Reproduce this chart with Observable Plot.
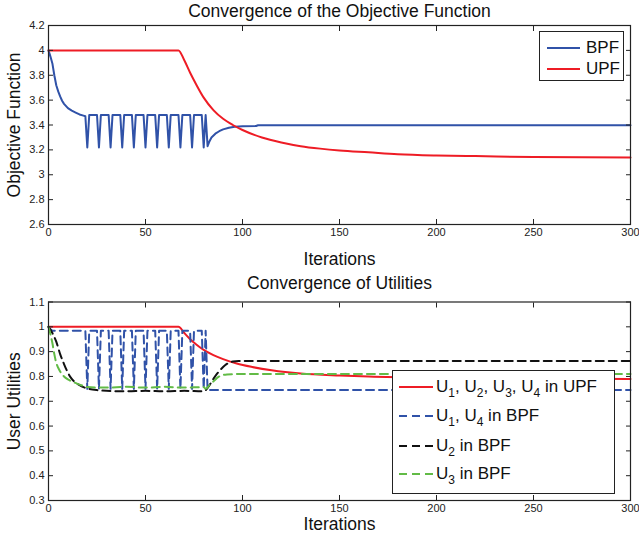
<!DOCTYPE html>
<html>
<head>
<meta charset="utf-8">
<script src="https://cdn.jsdelivr.net/npm/d3@7"></script>
<script src="https://cdn.jsdelivr.net/npm/@observablehq/plot@0.6"></script>
<style>
  html, body { margin: 0; padding: 0; background: #fff; }
  #wrap { position: relative; width: 639px; height: 540px; font-family: "Liberation Sans", Arial, sans-serif; }
  #wrap svg { display: block; }
  .legend { position: absolute; box-sizing: border-box; border: 1px solid #222; background: #fff; }
  .row { position: absolute; height: 24px; font-size: 17px; color: #111; white-space: nowrap; }
  .row svg { position: absolute; }
  .row span { position: absolute; line-height: 20px; }
  .row sub { font-size: 12px; vertical-align: -5px; line-height: 0; }
</style>
</head>
<body>
<div id="wrap"></div>
<script>
// ---------- tick values ----------
const iterTicks = [0, 50, 100, 150, 200, 250, 300];
const objTicks = [2.6, 2.8, 3, 3.2, 3.4, 3.6, 3.8, 4, 4.2];
const utilTicks = [0.3, 0.4, 0.5, 0.6, 0.7, 0.8, 0.9, 1, 1.1];

// ---------- top panel: objective function ----------
const bpfIter = [0,1,2,3,4,5,6,7,8,10,12,14,16,18,19,
  20,21,25,26,27,31,32,33,37,38,39,43,44,45,49,50,51,55,56,57,61,62,63,67,68,69,73,74,75,79,
  80,81,82,83,84,86,88,90,93,96,100,107,108,300];
const bpfObj = [4.0,3.95,3.895,3.80,3.72,3.67,3.63,3.595,3.57,3.535,3.515,3.50,3.485,3.475,3.47,
  3.22,3.48,3.48,3.22,3.48,3.48,3.22,3.48,3.48,3.22,3.48,3.48,3.22,3.48,3.48,3.22,3.48,3.48,3.22,3.48,3.48,3.22,3.48,3.48,3.22,3.48,3.48,3.22,3.48,3.48,
  3.22,3.48,3.23,3.27,3.30,3.33,3.35,3.365,3.378,3.386,3.39,3.392,3.398,3.398];

const upfIter = [0,67,70,73,76,80,85,90,95,100,110,120,130,140,150,165,180,200,220,250,300];
const upfObj = [4.0,4.0,3.92,3.82,3.73,3.62,3.52,3.45,3.40,3.36,3.30,3.26,3.23,3.21,3.195,3.18,3.165,3.155,3.15,3.142,3.138];

// ---------- bottom panel: user utilities ----------
const upfUtilIter = [0,67,70,73,76,80,85,90,97,105,115,130,150,165,200,250,300];
const upfUtil = [1.0,1.0,0.975,0.95,0.93,0.907,0.886,0.87,0.852,0.838,0.825,0.812,0.804,0.80,0.795,0.792,0.79];

const u14Iter = [0,1,2,19,20,21,25,26,27,31,32,33,37,38,39,43,44,45,49,50,51,55,56,57,61,62,63,67,68,69,73,74,75,79,80,81,82,300];
const u14Util = [1.0,0.99,0.984,0.984,0.75,0.984,0.984,0.75,0.984,0.984,0.75,0.984,0.984,0.75,0.984,0.984,0.75,0.984,0.984,0.75,0.984,0.984,0.75,0.984,0.984,0.75,0.984,0.984,0.75,0.984,0.984,0.75,0.984,0.984,0.75,0.984,0.745,0.745];

const u2Iter = [0,2,4,6,8,10,12,14,16,18,21,25,30,40,50,60,70,80,83,85,87,89,91,93,95,98,300];
const u2Util = [1.0,0.975,0.94,0.89,0.85,0.815,0.79,0.775,0.765,0.757,0.75,0.745,0.742,0.74,0.742,0.74,0.742,0.74,0.765,0.79,0.812,0.83,0.845,0.855,0.86,0.862,0.862];

const u3Iter = [0,1,2,3,4,5,6,8,10,12,15,18,20,30,40,50,60,70,80,81,83,85,88,92,100,300];
const u3Util = [1.0,0.97,0.935,0.89,0.855,0.835,0.82,0.80,0.788,0.78,0.77,0.762,0.757,0.755,0.758,0.755,0.758,0.755,0.757,0.75,0.765,0.78,0.80,0.808,0.81,0.81];

(function () {
// ---------- styles ----------
const BLUE = "#3052a8", RED = "#ee1c25", BLACK = "#111", GREEN = "#62bb46";
const DASH = "8,5";
const font = '"Liberation Sans", Arial, sans-serif';

const table = (xs, ys) => xs.map((x, i) => ({x, y: ys[i]}));
const fmt = d => String(+d.toFixed(1));
const T = {fontSize: 17.5, fill: "#111", textAnchor: "middle", lineAnchor: "middle"};

function frameMarks(yTicks) {
  return [
    Plot.axisX(iterTicks, {anchor: "bottom", tickSize: 0, tickPadding: 4, fontSize: 11, label: null, tickFormat: d => String(d), fill: "#222"}),
    Plot.axisX(iterTicks, {anchor: "bottom", tickSize: -5, tickFormat: () => "", label: null, stroke: "#222"}),
    Plot.axisX(iterTicks, {anchor: "top", tickSize: -5, tickFormat: () => "", label: null, stroke: "#222"}),
    Plot.axisY(yTicks, {anchor: "left", tickSize: 0, tickPadding: 4, fontSize: 11, label: null, tickFormat: fmt, fill: "#222"}),
    Plot.axisY(yTicks, {anchor: "left", tickSize: -5, tickFormat: () => "", label: null, stroke: "#222"}),
    Plot.axisY(yTicks, {anchor: "right", tickSize: -5, tickFormat: () => "", label: null, stroke: "#222"})
  ];
}

const topPlot = Plot.plot({
  width: 639, height: 270,
  marginLeft: 48, marginRight: 9, marginTop: 25, marginBottom: 46,
  style: {fontFamily: font, background: "#fff", overflow: "visible"},
  x: {domain: [0, 300]},
  y: {domain: [2.6, 4.2]},
  marks: [
    Plot.line(table(bpfIter, bpfObj), {x: "x", y: "y", stroke: BLUE, strokeWidth: 2, curve: "linear"}),
    Plot.line(table(upfIter, upfObj), {x: "x", y: "y", stroke: RED, strokeWidth: 2, curve: "monotone-x"}),
    ...frameMarks(objTicks),
    Plot.frame({stroke: "#222", strokeWidth: 1.2}),
    Plot.text(["Convergence of the Objective Function"], {frameAnchor: "top", dy: -14, ...T}),
    Plot.text(["Iterations"], {frameAnchor: "bottom", dy: 35, ...T}),
    Plot.text(["Objective Function"], {frameAnchor: "left", dx: -34, rotate: -90, ...T})
  ]
});

const bottomPlot = Plot.plot({
  width: 639, height: 270,
  marginLeft: 48, marginRight: 9, marginTop: 31.5, marginBottom: 40,
  style: {fontFamily: font, background: "#fff", overflow: "visible"},
  x: {domain: [0, 300]},
  y: {domain: [0.3, 1.1]},
  marks: [
    Plot.line(table(upfUtilIter, upfUtil), {x: "x", y: "y", stroke: RED, strokeWidth: 2, curve: "monotone-x"}),
    Plot.line(table(u14Iter, u14Util), {x: "x", y: "y", stroke: BLUE, strokeWidth: 2, strokeDasharray: DASH}),
    Plot.line(table(u2Iter, u2Util), {x: "x", y: "y", stroke: BLACK, strokeWidth: 2, strokeDasharray: DASH, curve: "monotone-x"}),
    Plot.line(table(u3Iter, u3Util), {x: "x", y: "y", stroke: GREEN, strokeWidth: 2, strokeDasharray: DASH, curve: "monotone-x"}),
    ...frameMarks(utilTicks),
    Plot.frame({stroke: "#222", strokeWidth: 1.2}),
    Plot.text(["Convergence of Utilities"], {frameAnchor: "top", dy: -18.5, ...T}),
    Plot.text(["Iterations"], {frameAnchor: "bottom", dy: 24, ...T}),
    Plot.text(["User Utilities"], {frameAnchor: "left", dx: -34, rotate: -90, ...T})
  ]
});

const wrap = document.getElementById("wrap");
wrap.appendChild(topPlot);
wrap.appendChild(bottomPlot);

// ---------- legends (HTML overlays) ----------
function legend(box, rows, lineLeft, lineW, textLeft) {
  const d = document.createElement("div");
  d.className = "legend";
  Object.assign(d.style, {left: box[0] + "px", top: box[1] + "px", width: box[2] + "px", height: box[3] + "px"});
  d.innerHTML = rows.map(r => `<div class="row" style="top:${r.c - 12}px;left:${lineLeft}px;width:${box[2] - lineLeft - 2}px">` +
    `<svg width="${lineW}" height="4" style="left:0;top:10px"><line x1="0" y1="2" x2="${lineW}" y2="2" stroke="${r.color}" stroke-width="2" ${r.dashed ? `stroke-dasharray="${DASH}"` : ""}/></svg>` +
    `<span style="left:${textLeft - lineLeft}px;top:2px">${r.html}</span></div>`).join("");
  wrap.appendChild(d);
}
legend([539, 31, 85, 50], [
  {c: 15.7, color: BLUE, dashed: false, html: "BPF"},
  {c: 37.3, color: RED, dashed: false, html: "UPF"}
], 7, 33, 46);
legend([392, 370, 223, 124], [
  {c: 15.7, color: RED, dashed: false, html: "U<sub>1</sub>, U<sub>2</sub>, U<sub>3</sub>, U<sub>4</sub> in UPF"},
  {c: 45, color: BLUE, dashed: true, html: "U<sub>1</sub>, U<sub>4</sub> in BPF"},
  {c: 75, color: BLACK, dashed: true, html: "U<sub>2</sub> in BPF"},
  {c: 103.3, color: GREEN, dashed: true, html: "U<sub>3</sub> in BPF"}
], 6, 34, 43);
})();
</script>
</body>
</html>
